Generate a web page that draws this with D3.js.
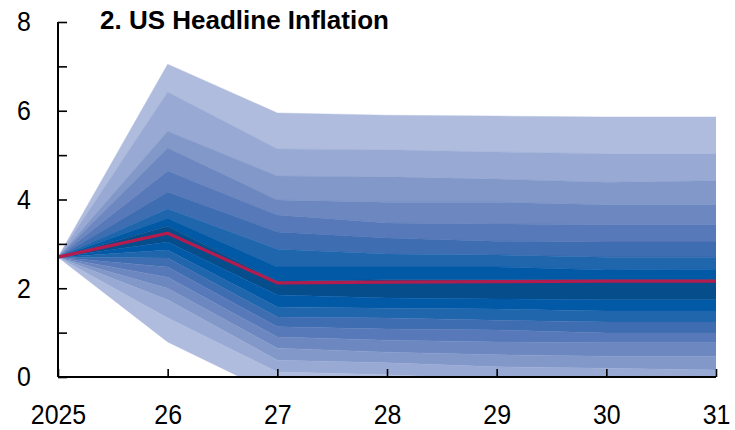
<!DOCTYPE html>
<html>
<head>
<meta charset="utf-8">
<script src="https://cdn.jsdelivr.net/npm/d3@7/dist/d3.min.js"></script>
<style>
  html, body { margin: 0; padding: 0; background: #ffffff; }
  svg { display: block; }
</style>
</head>
<body>
<svg id="chart" width="735" height="430"></svg>
<script>
// ---------- DATA ----------
const title = "2. US Headline Inflation";
const years = [2025, 2026, 2027, 2028, 2029, 2030, 2031];
const xTickLabels = ["2025", "26", "27", "28", "29", "30", "31"];
const yTicks = [0, 1, 2, 3, 4, 5, 6, 7, 8];
const yTickLabels = ["0", "", "2", "", "4", "", "6", "", "8"];

// central projection line
const centralLine = [2.70, 3.24, 2.12, 2.14, 2.15, 2.16, 2.16];

// fan boundaries per year, top to bottom (18 values -> 17 bands)
const fan2025 = [2.70, 2.70, 2.70, 2.70, 2.70, 2.70, 2.70, 2.70, 2.70, 2.70, 2.70, 2.70, 2.70, 2.70, 2.70, 2.70, 2.70, 2.70];
const fan2026 = [7.05, 6.42, 5.54, 5.16, 4.64, 4.17, 3.79, 3.58, 3.40, 3.04, 2.86, 2.68, 2.48, 2.25, 2.00, 1.74, 1.33, 0.79];
const fan2027 = [5.95, 5.14, 4.53, 3.99, 3.65, 3.27, 2.88, 2.48, 2.16, 1.85, 1.58, 1.35, 1.13, 0.90, 0.65, 0.38, 0.11, -0.41];
const fan2028 = [5.90, 5.12, 4.51, 3.94, 3.47, 3.13, 2.77, 2.48, 2.19, 1.78, 1.55, 1.33, 1.08, 0.83, 0.56, 0.32, 0.05, -0.52];
const fan2029 = [5.88, 5.07, 4.46, 3.94, 3.45, 3.06, 2.75, 2.48, 2.19, 1.76, 1.53, 1.28, 1.06, 0.79, 0.50, 0.23, -0.05, -0.63];
const fan2030 = [5.86, 5.03, 4.39, 3.88, 3.43, 3.04, 2.70, 2.41, 2.19, 1.74, 1.49, 1.24, 0.99, 0.77, 0.47, 0.20, -0.11, -0.70];
const fan2031 = [5.86, 5.03, 4.42, 3.88, 3.43, 3.04, 2.70, 2.43, 2.19, 1.74, 1.49, 1.24, 0.99, 0.77, 0.47, 0.16, -0.18, -0.74];

// band colours, outermost to innermost
const shades = ["#afbcde", "#98aad4", "#8298c9", "#6d88c0", "#5879b9", "#3f6db1", "#1f66ad", "#0259a6", "#064d8c"];

// ---------- BUILD ----------
const fans = [fan2025, fan2026, fan2027, fan2028, fan2029, fan2030, fan2031];
const nBands = fan2025.length - 1;
const bandColors = [];
for (let i = 0; i < nBands; i++) {
  const k = i <= 8 ? i : nBands - 1 - i;
  bandColors.push(shades[k]);
}

const svg = d3.select("#chart");
const margin = { left: 58, right: 19, top: 22, bottom: 53 };
const W = 735, H = 430;

const x = d3.scaleLinear().domain([2025, 2031]).range([margin.left, W - margin.right]);
const y = d3.scaleLinear().domain([0, 8]).range([H - margin.bottom, margin.top]);

svg.append("defs").append("clipPath").attr("id", "plotClip")
  .append("rect")
  .attr("x", x(2025)).attr("y", y(8))
  .attr("width", x(2031) - x(2025)).attr("height", y(0) - y(8));

const plot = svg.append("g").attr("clip-path", "url(#plotClip)");

const area = d3.area()
  .x(d => x(d.year))
  .y0(d => y(d.lo))
  .y1(d => y(d.hi));

for (let b = 0; b < nBands; b++) {
  const pts = years.map((yr, j) => ({ year: yr, hi: fans[j][b], lo: fans[j][b + 1] }));
  plot.append("path")
    .datum(pts)
    .attr("d", area)
    .attr("fill", bandColors[b])
    .attr("stroke", bandColors[b])
    .attr("stroke-width", 0.4);
}

const line = d3.line().x((d, i) => x(years[i])).y(d => y(d));
svg.append("path")
  .datum(centralLine)
  .attr("d", line)
  .attr("fill", "none")
  .attr("stroke", "#b31c4e")
  .attr("stroke-width", 3.2)
  .attr("stroke-linejoin", "miter");

// ---------- AXES ----------
const fontFam = "'Liberation Sans', Arial, sans-serif";
const squeeze = 0.89;

const yAxis = d3.axisLeft(y)
  .tickValues(yTicks)
  .tickFormat((d, i) => yTickLabels[i])
  .tickSize(-9)
  .tickPadding(26);

const gy = svg.append("g").attr("transform", `translate(${x(2025)},0)`).call(yAxis);
gy.select(".domain").attr("stroke", "#000").attr("stroke-width", 2).attr("d", `M0,${y(8)}V${y(0)}`);
gy.selectAll(".tick line").attr("stroke", "#000").attr("stroke-width", 1.6);
gy.selectAll(".tick text")
  .attr("fill", "#000")
  .style("font-family", fontFam)
  .style("font-size", "28px")
  .attr("text-anchor", "middle")
  .attr("x", -34 / squeeze)
  .attr("transform", `scale(${squeeze},1)`);

const xAxis = d3.axisBottom(x)
  .tickValues(years)
  .tickFormat((d, i) => xTickLabels[i])
  .tickSize(-8)
  .tickPadding(27);

const gx = svg.append("g").attr("transform", `translate(0,${y(0)})`).call(xAxis);
gx.select(".domain").attr("stroke", "#000").attr("stroke-width", 2).attr("d", `M${x(2025)},0H${x(2031)}`);
gx.selectAll(".tick line").attr("stroke", "#000").attr("stroke-width", 1.6);
gx.selectAll(".tick text")
  .attr("fill", "#000")
  .style("font-family", fontFam)
  .style("font-size", "28px")
  .attr("transform", `scale(${squeeze},1)`);

// ---------- TITLE ----------
svg.append("text")
  .attr("x", 100)
  .attr("y", 29)
  .style("font-family", "'Liberation Sans', Arial, sans-serif")
  .style("font-weight", "bold")
  .style("font-size", "26px")
  .attr("fill", "#000")
  .text(title);
</script>
</body>
</html>
